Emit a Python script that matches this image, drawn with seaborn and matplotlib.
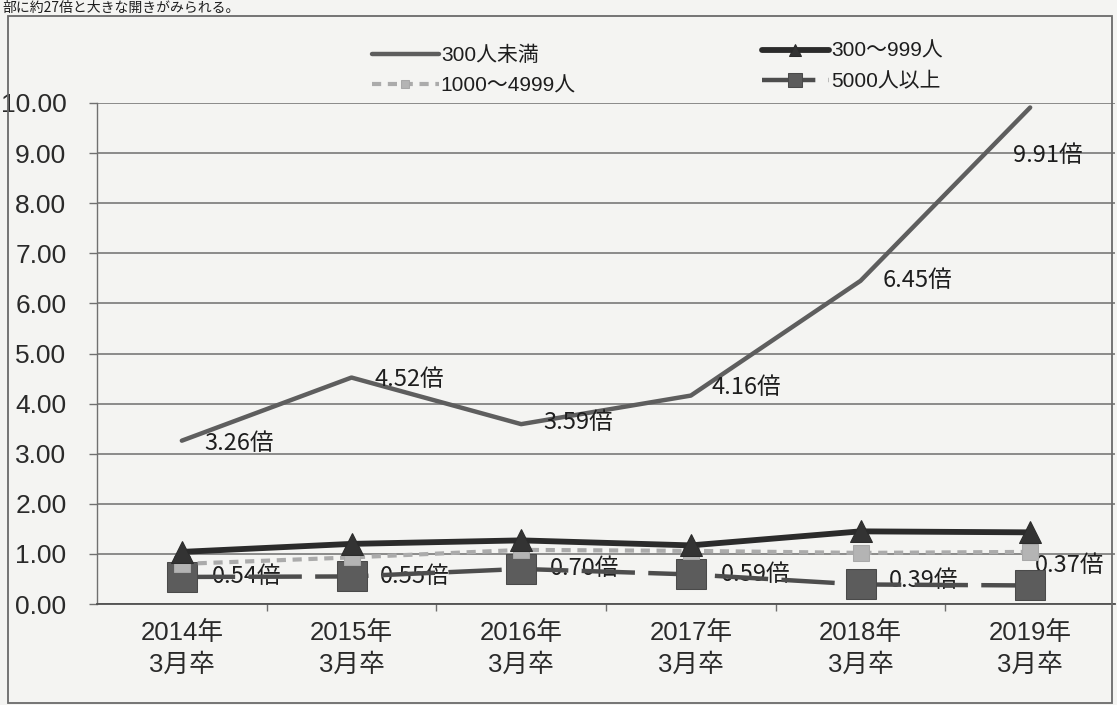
import matplotlib
matplotlib.use("Agg")
import matplotlib.pyplot as plt
from matplotlib.patches import Rectangle
import pandas as pd
import seaborn as sns

# Graduation cohorts on the x axis
periods = ["2014年\n3月卒", "2015年\n3月卒", "2016年\n3月卒",
           "2017年\n3月卒", "2018年\n3月卒", "2019年\n3月卒"]

# Job-openings-to-applicants ratio by company size
under_300 = [3.26, 4.52, 3.59, 4.16, 6.45, 9.91]
size_300_999 = [1.04, 1.20, 1.27, 1.17, 1.45, 1.43]
size_1000_4999 = [0.80, 0.93, 1.08, 1.06, 1.02, 1.04]
over_5000 = [0.54, 0.55, 0.70, 0.59, 0.39, 0.37]

series_names = ["300人未満", "300〜999人", "1000〜4999人", "5000人以上"]
y_ticks = [0, 1, 2, 3, 4, 5, 6, 7, 8, 9, 10]
headline = "部に約27倍と大きな開きがみられる。"

PAPER = "#f4f4f2"
LATIN_CJK = ["Liberation Sans", "Noto Sans CJK JP", "DejaVu Sans"]
CJK = ["Noto Sans CJK JP", "DejaVu Sans"]

sns.set_theme(style="white")
plt.rcParams["font.family"] = LATIN_CJK
plt.rcParams["axes.unicode_minus"] = False

W, H = 1117, 705
fig = plt.figure(figsize=(W / 100, H / 100), dpi=100, facecolor=PAPER)
ax = fig.add_axes([97 / W, 101 / H, (1115 - 97) / W, 501 / H], facecolor=PAPER)

frames = {
    name: pd.DataFrame({"period": periods, "ratio": vals})
    for name, vals in zip(series_names,
                          [under_300, size_300_999, size_1000_4999, over_5000])
}

# Draw from the back to the front: large squares, light squares, triangles, main line
sns.lineplot(data=frames["5000人以上"], x="period", y="ratio", ax=ax, sort=False,
             color="#4d4d4d", lw=3.2, marker="s", markersize=21,
             markerfacecolor="#5c5c5c", markeredgecolor="#4a4a4a",
             label="5000人以上", zorder=3)
line_5000 = ax.lines[-1]
line_5000.set_dashes((12, 3))

sns.lineplot(data=frames["1000〜4999人"], x="period", y="ratio", ax=ax, sort=False,
             color="#ababab", lw=3.0, marker="s", markersize=12,
             markerfacecolor="#b4b4b4", markeredgecolor="#a8a8a8",
             label="1000〜4999人", zorder=4)
line_1000 = ax.lines[-1]
line_1000.set_dashes((2.2, 1.6))

sns.lineplot(data=frames["300〜999人"], x="period", y="ratio", ax=ax, sort=False,
             color="#2b2b2b", lw=4.2, marker="^", markersize=16,
             markerfacecolor="#333333", markeredgecolor="#2b2b2b",
             label="300〜999人", zorder=5)
line_300_999 = ax.lines[-1]

sns.lineplot(data=frames["300人未満"], x="period", y="ratio", ax=ax, sort=False,
             color="#5e5e5e", lw=3.2, label="300人未満", zorder=6)
line_under = ax.lines[-1]

ax.set_xlim(-0.5, 5.5)
ax.set_ylim(0, 10)
ax.set_yticks(y_ticks)
ax.set_yticklabels([f"{v:.2f}" for v in y_ticks])
ax.set_xlabel("")
ax.set_ylabel("")

ax.yaxis.grid(True, color="#6e6e6e", lw=1.1)
ax.xaxis.grid(False)
ax.set_axisbelow(True)
for side in ("top", "right"):
    ax.spines[side].set_visible(False)
ax.spines["left"].set_color("#707070")
ax.spines["left"].set_linewidth(1.0)
ax.spines["bottom"].set_color("#505050")
ax.spines["bottom"].set_linewidth(1.3)

ax.tick_params(axis="y", which="major", direction="out", length=6, width=1,
               color="#707070", pad=16, labelsize=19, labelcolor="#2a2a2a", left=True)
ax.tick_params(axis="x", which="major", length=0, pad=12, labelsize=18.5,
               labelcolor="#2a2a2a", bottom=True)
ax.set_xticks([0.5, 1.5, 2.5, 3.5, 4.5], minor=True)
ax.tick_params(axis="x", which="minor", direction="out", length=5, width=1,
               color="#707070", bottom=True)
for lab in ax.get_xticklabels():
    lab.set_linespacing(1.45)

# Value labels, offsets in pixels relative to each point
px = 72 / 100
under_offsets = [(22, -3), (23, -2), (22, 2), (21, 8), (22, 0), (-17, -48)]
over_offsets = [(30, 0), (28, 0), (29, 0), (30, 0), (28, 4), (5, 20)]
for i, (v, (dx, dy)) in enumerate(zip(under_300, under_offsets)):
    ax.annotate(f"{v:.2f}倍", xy=(i, v), xytext=(dx * px, dy * px),
                textcoords="offset points", ha="left", va="center",
                fontsize=17, family=CJK, color="#1e1e1e", zorder=8)
for i, (v, (dx, dy)) in enumerate(zip(over_5000, over_offsets)):
    ax.annotate(f"{v:.2f}倍", xy=(i, v), xytext=(dx * px, dy * px),
                textcoords="offset points", ha="left", va="center",
                fontsize=17, family=CJK, color="#1e1e1e", zorder=2)

# Two legend columns above the plot
if ax.get_legend() is not None:
    ax.get_legend().remove()
legend_kw = dict(loc="upper left", frameon=False, handlelength=3.2,
                 handletextpad=0.1, labelspacing=0.55, markerscale=0.5,
                 fontsize=15, borderaxespad=0, borderpad=0)
leg1 = fig.legend(handles=[line_under, line_1000],
                  labels=["300人未満", "1000〜4999人"],
                  bbox_to_anchor=(372 / W, 1 - 46 / H), **legend_kw)
leg2 = fig.legend(handles=[line_300_999, line_5000],
                  labels=["300〜999人", "5000人以上"],
                  bbox_to_anchor=(762 / W, 1 - 42 / H), **legend_kw)
for leg in (leg1, leg2):
    for t in leg.get_texts():
        t.set_color("#1e1e1e")

# Outer frame around the chart
fig.patches.append(Rectangle((8 / W, 2 / H), (1112 - 8) / W, (705 - 16 - 2) / H,
                             transform=fig.transFigure, fill=False,
                             edgecolor="#6a6a6a", lw=1.3))

# Running text of the page above the chart
fig.text(2 / W, 1 - 1 / H, headline, fontsize=10, family=CJK,
         color="#1e1e1e", va="top", ha="left")

fig.savefig("out.png", dpi=100, facecolor=PAPER)
